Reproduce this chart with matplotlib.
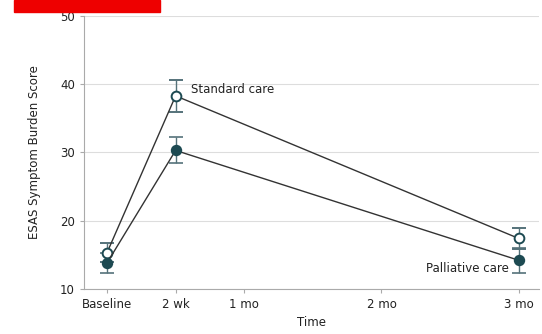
import matplotlib
matplotlib.use("Agg")
import matplotlib.pyplot as plt
from matplotlib.patches import Rectangle

plt.rcParams['font.family'] = ['Liberation Sans Narrow', 'DejaVu Sans']

time_labels = ["Baseline", "2 wk", "1 mo", "2 mo", "3 mo"]
time_ticks = [0, 2, 4, 8, 12]
obs_weeks = [0, 2, 12]
standard = [15.3, 38.3, 17.4]
standard_err = [1.4, 2.3, 1.6]
palliative = [13.8, 30.3, 14.2]
palliative_err = [1.4, 1.9, 1.8]

teal = "#1d4a52"
fig = plt.figure(figsize=(5.42, 3.34), dpi=100)
ax = fig.add_axes([0.155, 0.135, 0.84, 0.817])

ax.errorbar(obs_weeks, standard, yerr=standard_err, color="#333333", lw=1.0,
            marker="o", ms=7, mfc="white", mec=teal, mew=1.4,
            ecolor="#55727a", elinewidth=1.0, capsize=5, zorder=3)
ax.errorbar(obs_weeks, palliative, yerr=palliative_err, color="#333333", lw=1.0,
            marker="o", ms=7, mfc=teal, mec=teal, mew=1.2,
            ecolor="#55727a", elinewidth=1.0, capsize=5, zorder=3)

ax.set_xlim(-0.67, 12.6)
ax.set_ylim(10, 50)
ax.set_yticks([10, 20, 30, 40, 50])
ax.set_xticks(time_ticks)
ax.set_xticklabels(time_labels)
ax.grid(axis="y", color="#dddddd", lw=0.8)
ax.set_axisbelow(True)
for s in ["top", "right"]:
    ax.spines[s].set_visible(False)
for s in ["left", "bottom"]:
    ax.spines[s].set_color("#aaaaaa")
ax.tick_params(axis="both", colors="#aaaaaa", labelcolor="#222222", labelsize=8.5, length=3)
ax.set_ylabel("ESAS Symptom Burden Score", fontsize=8.5, color="#222222", labelpad=14)
ax.set_xlabel("Time", fontsize=8.5, color="#222222", labelpad=4)

ax.text(2.45, standard[1] + 0.9, "Standard care", fontsize=8.5, ha="left", va="center", color="#222222")
ax.text(11.7, palliative[2] - 1.2, "Palliative care", fontsize=8.5, ha="right", va="center", color="#222222")

fig.patches.append(Rectangle((14 / 542, 1 - 12 / 334), 146 / 542, 12 / 334,
                             transform=fig.transFigure, color="#ee0000", zorder=10))

fig.savefig("out.png", dpi=100)
